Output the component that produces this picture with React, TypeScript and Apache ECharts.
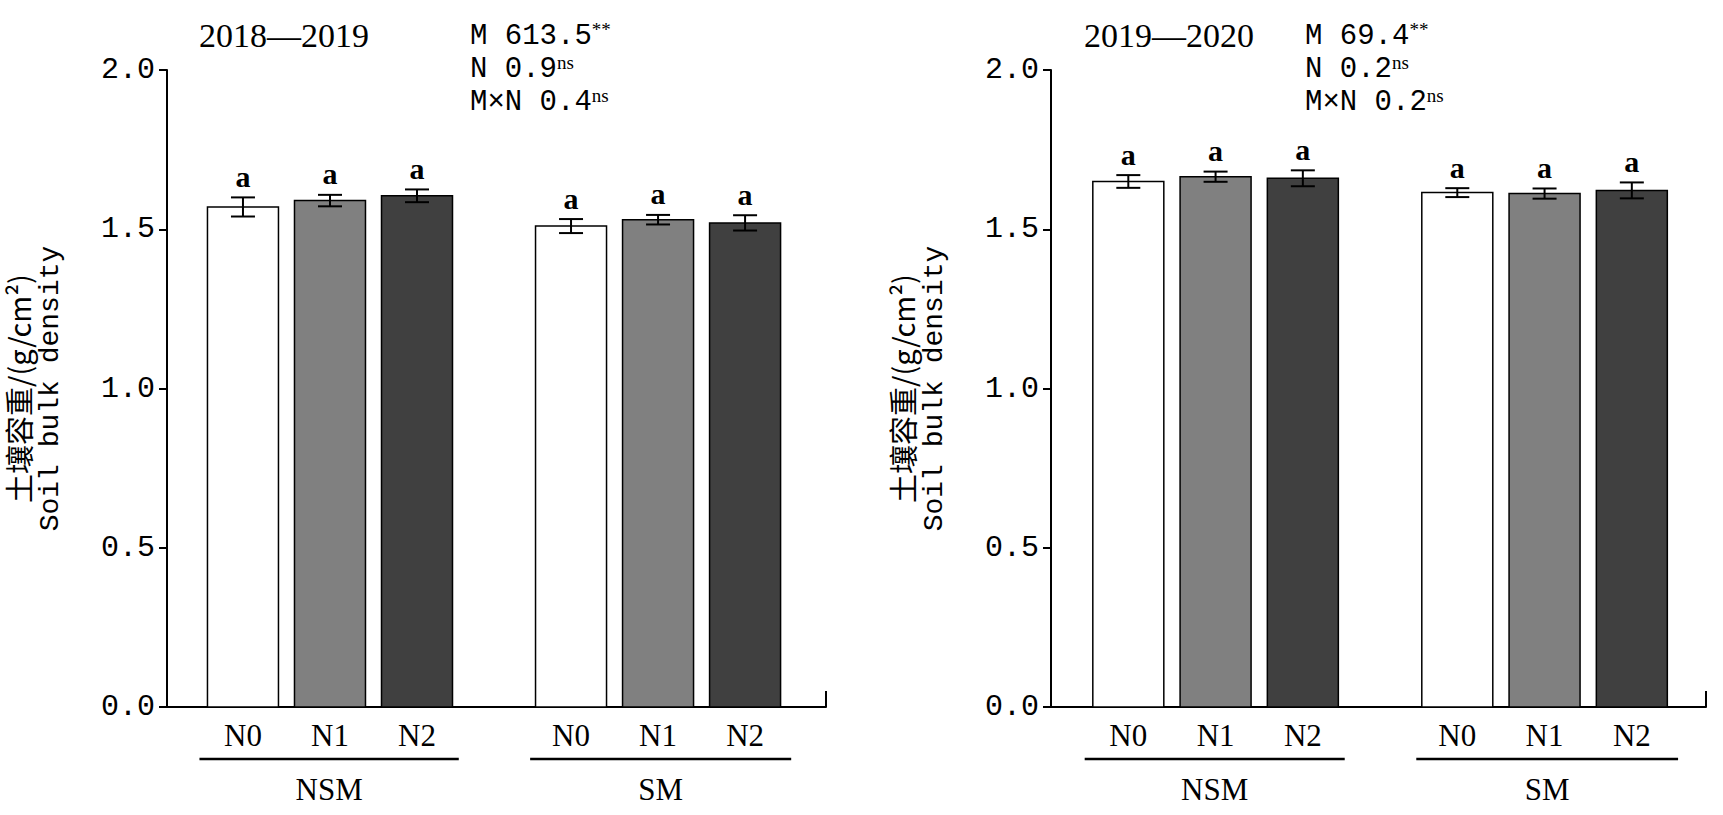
import { useEffect, useRef } from 'react'
import * as echarts from 'echarts'

const CATEGORIES = ['N0', 'N1', 'N2', 'N0', 'N1', 'N2']
const X_POS = [1, 2, 3, 4.77, 5.77, 6.77]
const FILLS = ['#ffffff', '#808080', '#404040', '#ffffff', '#808080', '#404040']
const GROUPS = [
  { name: 'NSM', from: 0.5, to: 3.48 },
  { name: 'SM', from: 4.3, to: 7.3 },
]

const MEAN_1819 = [1.57, 1.59, 1.605, 1.51, 1.53, 1.52]
const ERR_1819 = [0.03, 0.018, 0.02, 0.022, 0.015, 0.024]
const MEAN_1920 = [1.65, 1.665, 1.66, 1.615, 1.612, 1.622]
const ERR_1920 = [0.02, 0.016, 0.025, 0.014, 0.016, 0.025]
const LETTERS = ['a', 'a', 'a', 'a', 'a', 'a']

const PANELS = [
  { title: '2018—2019', stats: [['M 613.5', '**'], ['N 0.9', 'ns'], ['M×N 0.4', 'ns']], mean: MEAN_1819, err: ERR_1819, left: 166, width: 660, min: 0.127, max: 7.7, statsX: 470 },
  { title: '2019—2020', stats: [['M 69.4', '**'], ['N 0.2', 'ns'], ['M×N 0.2', 'ns']], mean: MEAN_1920, err: ERR_1920, left: 1051, width: 655, min: 0.114, max: 7.62, statsX: 1305 },
]

const NUM_FONT = '"Liberation Mono", "Noto Sans CJK SC", monospace'
const SERIF = '"Liberation Serif", "DejaVu Serif", serif'
const TOP = 70
const HEIGHT = 637

export default function App() {
  const ref = useRef<HTMLDivElement>(null)

  useEffect(() => {
    if (!ref.current) return
    document.body.style.margin = '0'
    const chart = echarts.init(ref.current, null, { renderer: 'svg' })

    const grid: any[] = []
    const xAxis: any[] = []
    const yAxis: any[] = []
    const series: any[] = []
    const graphic: any[] = []

    PANELS.forEach((p, k) => {
      grid.push({ left: p.left, top: TOP, width: p.width, height: HEIGHT })
      xAxis.push({
        type: 'value', gridIndex: k, min: p.min, max: p.max,
        axisLine: { show: true, lineStyle: { color: '#000', width: 2 } },
        axisTick: { show: false }, axisLabel: { show: false }, splitLine: { show: false },
      })
      yAxis.push({
        type: 'value', gridIndex: k, min: 0, max: 2, interval: 0.5,
        axisLine: { show: true, lineStyle: { color: '#000', width: 2 } },
        axisTick: { show: true, length: 8, lineStyle: { color: '#000', width: 2 } },
        axisLabel: { fontFamily: NUM_FONT, fontSize: 30, color: '#000', margin: 12, formatter: (v: number) => v.toFixed(1) },
        splitLine: { show: false },
        name: '{a|土壤容重/(g/cm²)}\n{b|Soil bulk density}',
        nameLocation: 'middle', nameGap: 100, nameRotate: 90,
        nameTextStyle: {
          color: '#000', lineHeight: 33,
          rich: {
            a: { fontFamily: '"Noto Sans CJK SC", sans-serif', fontSize: 29, color: '#000', lineHeight: 33 },
            b: { fontFamily: NUM_FONT, fontSize: 28, color: '#000', lineHeight: 33 },
          },
        },
      })

      series.push({
        type: 'custom', xAxisIndex: k, yAxisIndex: k, clip: false,
        data: X_POS.map((x, i) => [x, p.mean[i], p.err[i], i]),
        renderItem: (_params: any, api: any) => {
          const x = api.value(0), m = api.value(1), e = api.value(2), i = api.value(3)
          const base = api.coord([x, 0])
          const top = api.coord([x, m])
          const hi = api.coord([x, m + e])
          const lo = api.coord([x, m - e])
          const bw = 71, cap = 12
          return {
            type: 'group',
            children: [
              { type: 'rect', shape: { x: base[0] - bw / 2, y: top[1], width: bw, height: base[1] - top[1] }, style: { fill: FILLS[i], stroke: '#000', lineWidth: 1.5 } },
              { type: 'line', shape: { x1: hi[0], y1: hi[1], x2: lo[0], y2: lo[1] }, style: { stroke: '#000', lineWidth: 2 } },
              { type: 'line', shape: { x1: hi[0] - cap, y1: hi[1], x2: hi[0] + cap, y2: hi[1] }, style: { stroke: '#000', lineWidth: 2 } },
              { type: 'line', shape: { x1: lo[0] - cap, y1: lo[1], x2: lo[0] + cap, y2: lo[1] }, style: { stroke: '#000', lineWidth: 2 } },
              { type: 'text', style: { x: hi[0], y: hi[1] - 6, text: LETTERS[i], textAlign: 'center', textVerticalAlign: 'bottom', fontFamily: SERIF, fontWeight: 'bold', fontSize: 30, fill: '#000' } },
              { type: 'text', style: { x: base[0], y: base[1] + 28, text: CATEGORIES[i], textAlign: 'center', textVerticalAlign: 'middle', fontFamily: SERIF, fontSize: 31, fill: '#000' } },
            ],
          }
        },
      })

      series.push({
        type: 'custom', xAxisIndex: k, yAxisIndex: k, clip: false,
        data: GROUPS.map((g) => [g.from, g.to]),
        renderItem: (params: any, api: any) => {
          const a = api.coord([api.value(0), 0])
          const b = api.coord([api.value(1), 0])
          const y = a[1] + 52
          return {
            type: 'group',
            children: [
              { type: 'line', shape: { x1: a[0], y1: y, x2: b[0], y2: y }, style: { stroke: '#000', lineWidth: 2.5 } },
              { type: 'text', style: { x: (a[0] + b[0]) / 2, y: y + 30, text: GROUPS[params.dataIndex].name, textAlign: 'center', textVerticalAlign: 'middle', fontFamily: SERIF, fontSize: 31, fill: '#000' } },
            ],
          }
        },
      })

      // small end tick at the right of the x axis
      graphic.push({ type: 'line', shape: { x1: p.left + p.width, y1: TOP + HEIGHT - 16, x2: p.left + p.width, y2: TOP + HEIGHT }, style: { stroke: '#000', lineWidth: 2 } })
      graphic.push({ type: 'text', left: p.left + 33, top: 18, style: { text: p.title, fontFamily: SERIF, fontSize: 34, fill: '#000' } })
      p.stats.forEach((s, j) => {
        graphic.push({
          type: 'text', left: p.statsX, top: 20 + j * 33,
          style: {
            text: `{t|${s[0]}}{s|${s[1]}}`,
            rich: {
              t: { fontFamily: NUM_FONT, fontSize: 29, color: '#000' },
              s: { fontFamily: SERIF, fontSize: 19, color: '#000', verticalAlign: 'top', padding: [0, 0, 14, 0] },
            },
          },
        })
      })
    })

    chart.setOption({ animation: false, backgroundColor: '#fff', grid, xAxis, yAxis, series, graphic })
    return () => chart.dispose()
  }, [])

  return <div ref={ref} style={{ width: 1723, height: 815 }} />
}
